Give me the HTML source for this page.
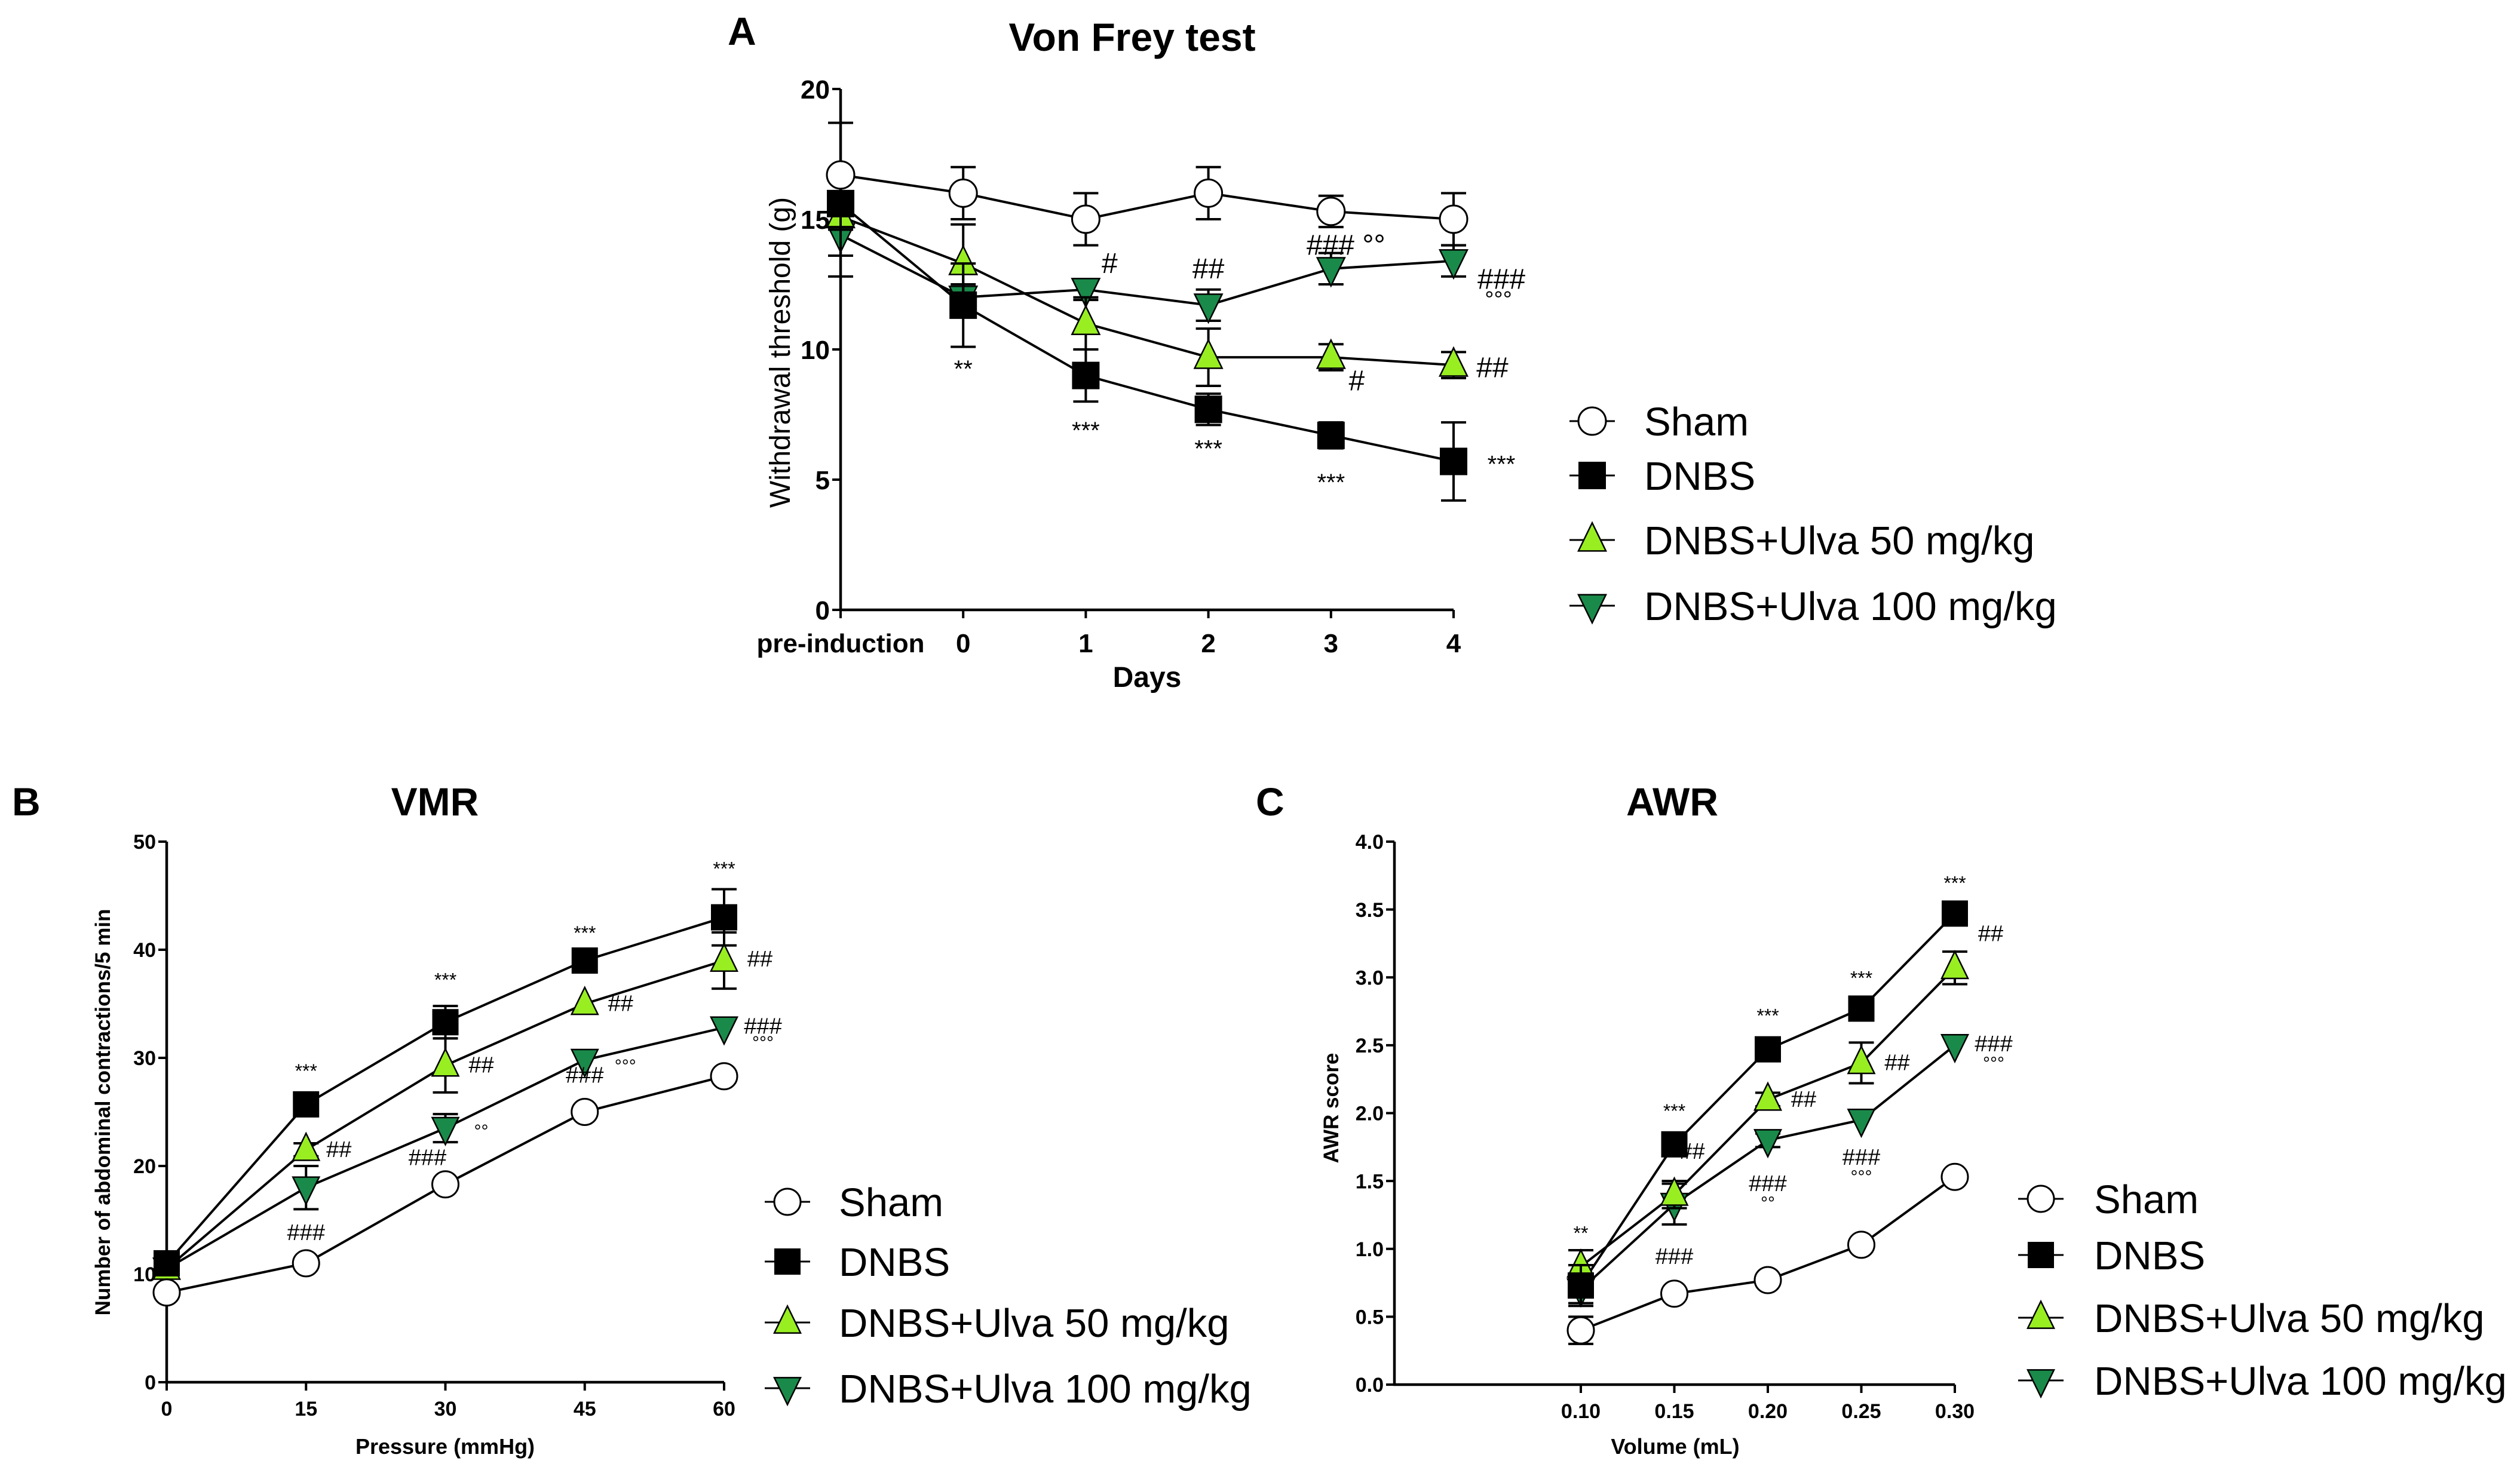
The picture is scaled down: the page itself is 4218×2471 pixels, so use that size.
<!DOCTYPE html>
<html><head><meta charset="utf-8"><style>
body{margin:0;background:#fff}
svg{display:block}
text{font-family:"Liberation Sans",sans-serif}
</style></head><body>
<svg id="fig" width="4218" height="2471" viewBox="0 0 4218 2471" xmlns="http://www.w3.org/2000/svg"></svg>
<script>
// Panel A data
const aCats = ["pre-induction","0","1","2","3","4"];
const aSham = [16.7,16,15,16,15.3,15];
const aShamErr = [2,1,1,1,0.6,1];
const aDnbs = [15.6,11.7,9,7.7,6.7,5.7];
const aDnbsErr = [1,1.6,1,0.6,0.5,1.5];
const aU50 = [15.1,13.3,11,9.7,9.7,9.4];
const aU50Err = [1.5,1.5,1,1.1,0.5,0.5];
const aU100 = [14.4,12,12.3,11.7,13.1,13.4];
const aU100Err = [1.6,0.5,0.4,0.6,0.6,0.6];
const aTicks = [0,5,10,15,20];
// Panel B data
const bCats = [0,15,30,45,60];
const bSham = [8.3,11,18.3,25,28.3];
const bShamErr = [0,0,0,0,0];
const bDnbs = [11,25.7,33.3,39,43];
const bDnbsErr = [0,0,1.5,0,2.6];
const bU50 = [10.5,21.5,29.3,35,39];
const bU50Err = [0,0.6,2.5,0,2.6];
const bU100 = [10.5,18,23.5,29.8,32.8];
const bU100Err = [0,2,1.3,0,0];
const bTicks = [0,10,20,30,40,50];
// Panel C data
const cCats = ["0.10","0.15","0.20","0.25","0.30"];
const cSham = [0.4,0.67,0.77,1.03,1.53];
const cShamErr = [0.1,0,0,0,0];
const cDnbs = [0.73,1.77,2.47,2.77,3.47];
const cDnbsErr = [0.15,0,0,0,0];
const cU50 = [0.87,1.4,2.1,2.37,3.07];
const cU50Err = [0.12,0.1,0.05,0.15,0.12];
const cU100 = [0.7,1.33,1.8,1.95,2.5];
const cU100Err = [0.1,0.15,0.05,0,0];
const cTicks = ["0.0","0.5","1.0","1.5","2.0","2.5","3.0","3.5","4.0"];
const legendLabels = ["Sham","DNBS","DNBS+Ulva 50 mg/kg","DNBS+Ulva 100 mg/kg"];

const NS="http://www.w3.org/2000/svg";
const svg=document.getElementById('fig');
function el(tag,attrs,parent,txt){const e=document.createElementNS(NS,tag);for(const k in attrs)e.setAttribute(k,attrs[k]);if(txt!==undefined)e.textContent=txt;(parent||svg).appendChild(e);return e;}

function marker(g,type,x,y,s){
  let e;
  if(type==='circle'){e=el('circle',{cx:x,cy:y,r:s,fill:'#fff',stroke:'#000','stroke-width':3},g);}
  else if(type==='square'){e=el('rect',{x:x-s,y:y-s,width:2*s,height:2*s,fill:'#000'},g);}
  else if(type==='up'){e=el('polygon',{points:`${x},${y-s*1.25} ${x-s},${y+s*0.8} ${x+s},${y+s*0.8}`,fill:'#99ee22',stroke:'#000','stroke-width':2.5},g);}
  else {e=el('polygon',{points:`${x},${y+s*1.25} ${x-s},${y-s*0.8} ${x+s},${y-s*0.8}`,fill:'#1a8a4a',stroke:'#000','stroke-width':2.5},g);}
  return e;
}

function panel(cfg){
  const g=el('g',{});
  
  
  const X=i=>cfg.x0+(cfg.x1-cfg.x0)*i/(cfg.n-1);
  const Y=v=>cfg.y0-(cfg.y0-cfg.yTop)*(v-cfg.ymin)/(cfg.ymax-cfg.ymin);
  const ax=el('path',{d:`M${cfg.axisX} ${cfg.yTop}V${cfg.y0}H${cfg.x1}`,fill:'none',stroke:'#000','stroke-width':4.5},g);
  
  
  cfg.yTicks.forEach(t=>{const v=parseFloat(t);const y=Y(v);
    el('line',{x1:cfg.axisX-14,x2:cfg.axisX,y1:y,y2:y,stroke:'#000','stroke-width':4},g);
    const tl=el('text',{x:cfg.axisX-18,y:y+cfg.tickFs*0.36,'text-anchor':'end','font-size':cfg.tickFs,'font-weight':'bold'},g,t);
    
    
  });
  cfg.cats.forEach((c,i)=>{const x=X(i);
    el('line',{x1:x,x2:x,y1:cfg.y0,y2:cfg.y0+14,stroke:'#000','stroke-width':4},g);
    const tl=el('text',{x:x,y:cfg.tickY,'text-anchor':'middle','font-size':cfg.tickFs,'font-weight':'bold'},g,c);
    
    
  });
  const xt=el('text',{x:cfg.xTitleX,y:cfg.xTitleY,'text-anchor':'middle','font-size':cfg.xTitleFs,'font-weight':'bold'},g,cfg.xTitle);
  
  
  const yt=el('text',{x:0,y:0,transform:`translate(${cfg.yTitleX},${cfg.yTitleY}) rotate(-90)`,'text-anchor':'middle','font-size':cfg.yTitleFs,'font-weight':cfg.yTitleW},g,cfg.yTitle);
  
  
  const tt=el('text',{x:cfg.titleX,y:cfg.titleY,'text-anchor':'middle','font-size':66,'font-weight':'bold'},g,cfg.title);
  
  
  const pl=el('text',{x:cfg.letterX,y:cfg.letterY,'font-size':66,'font-weight':'bold'},g,cfg.letter);
  
  
  const types=['circle','square','up','down'];
  const order=[3,2,1,0];
  order.forEach(si=>{const vals=cfg.series[si];
    const p=el('polyline',{points:vals.map((v,i)=>`${X(i)},${Y(v)}`).join(' '),fill:'none',stroke:'#000','stroke-width':4},g);
    
    
  });
  order.forEach(si=>{const vals=cfg.series[si],errs=cfg.errs[si];
    vals.forEach((v,i)=>{const x=X(i);const e=errs[i];
      if(e>0){const eb=el('path',{d:`M${x} ${Y(v+e)}V${Y(v-e)}M${x-21} ${Y(v+e)}h42M${x-21} ${Y(v-e)}h42`,stroke:'#000','stroke-width':4,fill:'none'},g);
        
        }
      const m=marker(g,types[si],x,Y(v),cfg.ms);
      
      
    });
  });
  cfg.annots.forEach(a=>{const t=el('text',{x:X(a[0])+a[2],y:Y(a[1])+a[3],'font-size':a[5]||cfg.annFs,'text-anchor':'middle'},g,a[4]);
    
    });
  legendLabels.forEach((lab,i)=>{const y=cfg.legY[i];
    const lg=el('g',{},g);
    
    
    el('line',{x1:cfg.legX-38,x2:cfg.legX+38,y1:y,y2:y,stroke:'#000','stroke-width':3},lg);
    marker(lg,types[i],cfg.legX,y,cfg.ms);
    el('text',{x:cfg.legTx,y:y+24,'font-size':cfg.legFs},lg,lab);
  });
}

panel({name:'von-frey-chart',n:6,cats:aCats,x0:1407,x1:2433,axisX:1407,y0:1021,yTop:149,ymin:0,ymax:20,
  yTicks:aTicks.map(String),tickFs:44,tickY:1092,xTitle:'Days',xTitleX:1920,xTitleY:1150,xTitleFs:48,
  yTitle:'Withdrawal threshold (g)',yTitleX:1322,yTitleY:590,yTitleFs:48,yTitleW:'normal',
  title:'Von Frey test',titleX:1895,titleY:85,letter:'A',letterX:1218,letterY:75,ms:23,annFs:42,
  series:[aSham,aDnbs,aU50,aU100],errs:[aShamErr,aDnbsErr,aU50Err,aU100Err],
  annots:[[1,9.36,0,18,'**',40],[2,7.0,0,18,'***',40],[3,6.3,0,18,'***',40],[4,5.0,0,18,'***',40],[5,5.7,80,18,'***',40],
   [2,13.3,40,16,'#',48],[3,13.1,0,16,'##',48],[4,14.0,25,16,'### °°',48],[5,12.7,80,16,'###',48],[5,11.9,75,12,'°°°',38],
   [4,8.8,43,16,'#',48],[5,9.3,65,16,'##',48]],
  legX:2665,legTx:2752,legY:[705,796,904,1014],legFs:67});

panel({name:'vmr-chart',n:5,cats:bCats.map(String),x0:279,x1:1212,axisX:279,y0:2314,yTop:1409,ymin:0,ymax:50,
  yTicks:bTicks.map(String),tickFs:34,tickY:2370,xTitle:'Pressure (mmHg)',xTitleX:745,xTitleY:2434,xTitleFs:36,
  yTitle:'Number of abdominal contractions/5 min',yTitleX:184,yTitleY:1862,yTitleFs:35,yTitleW:'bold',
  title:'VMR',titleX:728,titleY:1365,letter:'B',letterX:20,letterY:1365,ms:22,annFs:38,
  series:[bSham,bDnbs,bU50,bU100],errs:[bShamErr,bDnbsErr,bU50Err,bU100Err],
  annots:[[1,25.7,0,-45,'***',32],[2,33.3,0,-60,'***',32],[3,39,0,-35,'***',32],[4,43,0,-70,'***',32],
   [1,21.5,55,12,'##'],[2,29.3,60,12,'##'],[3,35,60,12,'##'],[4,39,60,10,'##'],
   [1,18,0,88,'###'],[2,23.5,-30,62,'###'],[2,23.5,60,15,'°°',30],[3,29.8,0,38,'###'],[3,29.8,68,20,'°°°',30],[4,32.8,65,10,'###'],[4,32.8,65,35,'°°°',30]],
  legX:1318,legTx:1404,legY:[2012,2112,2214,2324],legFs:67});

panel({name:'awr-chart',n:5,cats:cCats,x0:2646,x1:3272,axisX:2334,y0:2318,yTop:1409,ymin:0,ymax:4,
  yTicks:cTicks,tickFs:34,tickY:2374,xTitle:'Volume (mL)',xTitleX:2804,xTitleY:2434,xTitleFs:36,
  yTitle:'AWR score',yTitleX:2240,yTitleY:1855,yTitleFs:35,yTitleW:'bold',
  title:'AWR',titleX:2799,titleY:1365,letter:'C',letterX:2102,letterY:1365,ms:22,annFs:38,
  series:[cSham,cDnbs,cU50,cU100],errs:[cShamErr,cDnbsErr,cU50Err,cU100Err],
  annots:[[0,0.87,0,-45,'**',32],[1,1.77,0,-45,'***',32],[2,2.47,0,-45,'***',32],[3,2.77,0,-40,'***',32],[4,3.47,0,-40,'***',32],
   [1,1.4,30,-60,'##'],[2,2.1,60,12,'##'],[3,2.37,60,12,'##'],[4,3.07,60,-45,'##'],
   [1,1.33,0,100,'###'],[2,1.8,0,85,'###'],[2,1.8,0,115,'°°',30],[3,1.95,0,75,'###'],[3,1.95,0,105,'°°°',30],[4,2.5,65,10,'###'],[4,2.5,65,40,'°°°',30]],
  legX:3416,legTx:3505,legY:[2007,2101,2206,2311],legFs:67});
</script>
</body></html>
